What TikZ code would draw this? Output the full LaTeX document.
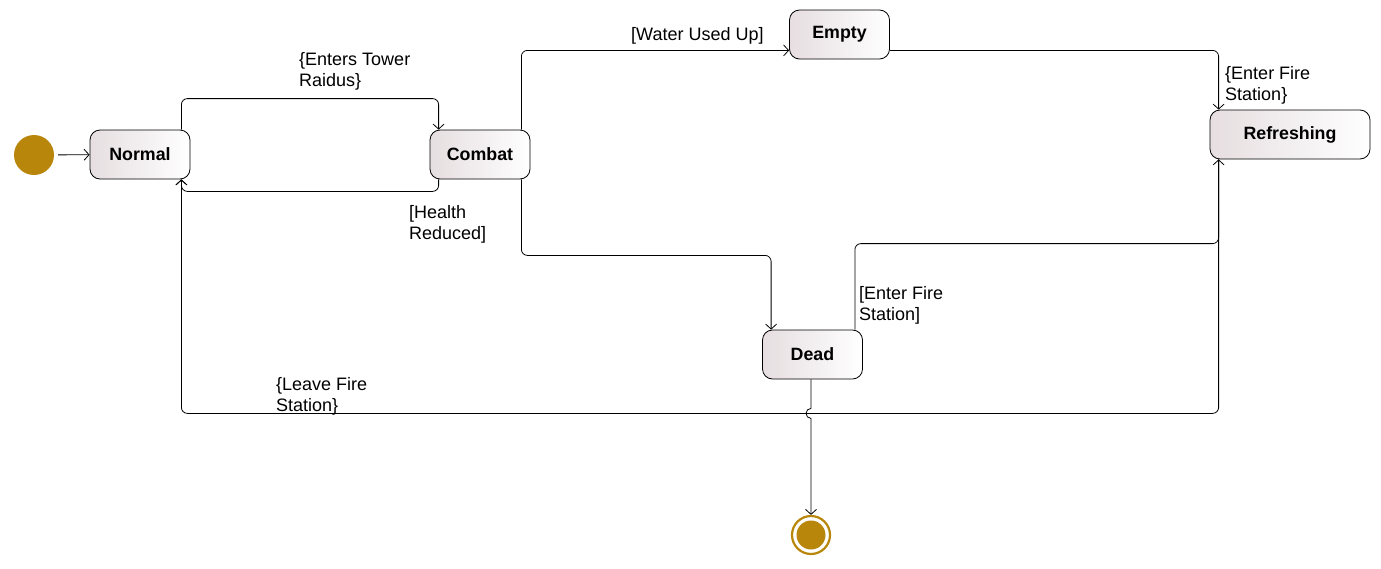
\documentclass[tikz,border=0pt]{standalone}
\usepackage{fontspec}
\setmainfont{Liberation Sans}
\usetikzlibrary{arrows.meta}
\definecolor{gold}{RGB}{184,134,11}
\definecolor{stfill}{RGB}{230,222,224}
\begin{document}
\begin{tikzpicture}[x=1pt,y=-1pt,
  state/.style={draw=black,line width=0.8pt,rounded corners=10pt,minimum width=100pt,minimum height=49pt,
    left color=stfill,right color=white,font=\fontsize{17.8}{21}\selectfont\bfseries,inner sep=0pt},
  edge/.style={draw=black,line width=0.8pt,rounded corners=6pt,-{Straight Barb[length=5pt,width=11pt,line width=0.8pt]}},
  lbl/.style={anchor=north west,align=left,inner sep=0pt,font=\fontsize{18}{21}\selectfont}]
\useasboundingbox (0,0) rectangle (1381,568);
\node[circle,fill=gold,minimum size=40pt,inner sep=0pt] (init) at (34,155) {};
\node[state] (Normal) at (140,154.5) {Normal};
\node[state] (Combat) at (480,154.5) {Combat};
\node[state] (Empty) at (839.5,34.5) {Empty};
\node[state,minimum width=160pt] (Refr) at (1290,134.5) {Refreshing};
\node[state] (Dead) at (812.5,354.5) {Dead};
\node[circle,draw=gold,line width=2.2pt,minimum size=38pt,inner sep=0pt] (final) at (811,535) {};
\node[circle,fill=gold,minimum size=29pt,inner sep=0pt] (finalin) at (final.center) {};

\draw[edge,shorten <=4pt] (init) -- (Normal);
\draw[edge] ([xshift=-9pt]Normal.north east) -- ++(0,-31) -| ([xshift=9pt]Combat.north west);
\draw[edge] ([xshift=9pt]Combat.south west) -- ++(0,12) -| ([xshift=-9pt]Normal.south east);
\draw[edge] ([xshift=-9pt]Combat.north east) |- ([yshift=9pt]Empty.south west);
\draw[edge] ([yshift=9pt]Empty.south east) -| ([xshift=9pt]Refr.north west);
\draw[edge] ([xshift=-9pt]Combat.south east) -- ++(0,76) -| ([xshift=9pt]Dead.north west);
\draw[edge] ([xshift=-8pt]Dead.north east) -- ++(0,-86) -| ([xshift=9pt]Refr.south west);
\draw[edge] ([xshift=9pt]Refr.south west) -- ++(0,254) -| ([xshift=-9pt]Normal.south east);
\draw[draw=black,line width=0.8pt,-{Straight Barb[length=5pt,width=11pt,line width=0.8pt]}]
  (Dead.south -| final.north) -- ++(0,29) arc[start angle=90,end angle=270,radius=5pt] -- (final.north);

\node[lbl] (l1) at (299,52) {\{Enters Tower\\Raidus\}};
\node[lbl] (l2) at (631,27) {[Water Used Up]};
\node[lbl] (l3) at (1225,66) {\{Enter Fire\\Station\}};
\node[lbl] (l4) at (409,205) {[Health\\Reduced]};
\node[lbl] (l5) at (859,286) {[Enter Fire\\Station]};
\node[lbl] (l6) at (276,377) {\{Leave Fire\\Station\}};
\end{tikzpicture}
\end{document}
